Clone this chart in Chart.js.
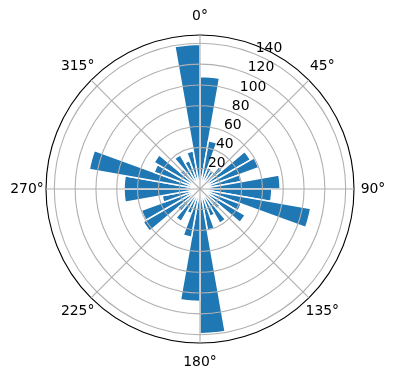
<!DOCTYPE html>
<html>
<head>
  <meta charset="utf-8">
  <title>Polar bars</title>
  <script src="https://cdn.jsdelivr.net/npm/chart.js@4.4.0/dist/chart.umd.min.js"></script>
  <style>
  html, body { margin: 0; padding: 0; background: #fff; }
  #chart { display: block; }
  </style>
</head>
<body>
<canvas id="chart" width="396" height="380"></canvas>
<script>
// 36 direction sectors, 10 degrees each, clockwise from north
var sectors = [];
for (var s = 0; s < 36; s++) { sectors.push((s * 10) + '-' + (s * 10 + 10)); }

var counts = [108, 47, 22, 20, 28, 56, 60, 40, 77, 69, 108, 42, 50, 25, 38, 28, 40, 139,
              108, 47, 25, 36, 28, 63, 60, 37, 73, 73, 108, 47, 51, 25, 38, 29, 37, 139];

var rTicks = [20, 40, 60, 80, 100, 120, 140];
var rMax = 148;
var thetaTicks = [0, 45, 90, 135, 180, 225, 270, 315];
var rLabelAngle = 22.5;

var FONT = '13.9px "DejaVu Sans"';

// angle lines, theta labels and r labels like matplotlib's polar axes
var polarDecor = {
  id: 'polarDecor',
  afterDraw: function(chart) {
    var scale = chart.scales.r;
    var ctx = chart.ctx;
    var step = 360 / sectors.length;
    ctx.save();
    ctx.strokeStyle = '#b0b0b0';
    ctx.lineWidth = 1.1;
    thetaTicks.forEach(function(t) {
      var p = scale.getPointPosition(t / step, scale.drawingArea);
      ctx.beginPath();
      ctx.moveTo(scale.xCenter, scale.yCenter);
      ctx.lineTo(p.x, p.y);
      ctx.stroke();
    });
    ctx.font = FONT;
    ctx.fillStyle = '#000';
    ctx.textAlign = 'center';
    ctx.textBaseline = 'middle';
    thetaTicks.forEach(function(t) {
      var p = scale.getPointPosition(t / step, scale.drawingArea + 19);
      ctx.fillText(t + '\u00b0', p.x, p.y);
    });
    ctx.textAlign = 'left';
    ctx.textBaseline = 'bottom';
    rTicks.forEach(function(v) {
      var p = scale.getPointPosition(rLabelAngle / step, scale.getDistanceFromCenterForValue(v));
      ctx.fillText(String(v), p.x, p.y + 1);
    });
    ctx.restore();
  }
};

var ctx = document.getElementById('chart').getContext('2d');
var myChart = new Chart(ctx, {
  type: 'polarArea',
  data: {
    labels: sectors,
    datasets: [{
      data: counts,
      backgroundColor: '#1f77b4',
      borderColor: '#ffffff',
      borderWidth: 1.5
    }]
  },
  options: {
    responsive: false,
    animation: false,
    devicePixelRatio: 1,
    layout: { padding: { left: 46, right: 42, top: 35, bottom: 37 } },
    plugins: { legend: { display: false }, tooltip: { enabled: false } },
    scales: {
      r: {
        min: 0,
        max: rMax,
        startAngle: 0,
        afterBuildTicks: function(scale) {
          scale.ticks = [0].concat(rTicks, [rMax]).map(function(v) { return { value: v }; });
        },
        ticks: { display: false },
        pointLabels: { display: false },
        angleLines: { display: false },
        grid: {
          circular: true,
          z: 1,
          lineWidth: 1.1,
          color: function(c) { return c.tick && c.tick.value === rMax ? '#000000' : '#b0b0b0'; }
        }
      }
    }
  },
  plugins: [polarDecor]
});
</script>
</body>
</html>
